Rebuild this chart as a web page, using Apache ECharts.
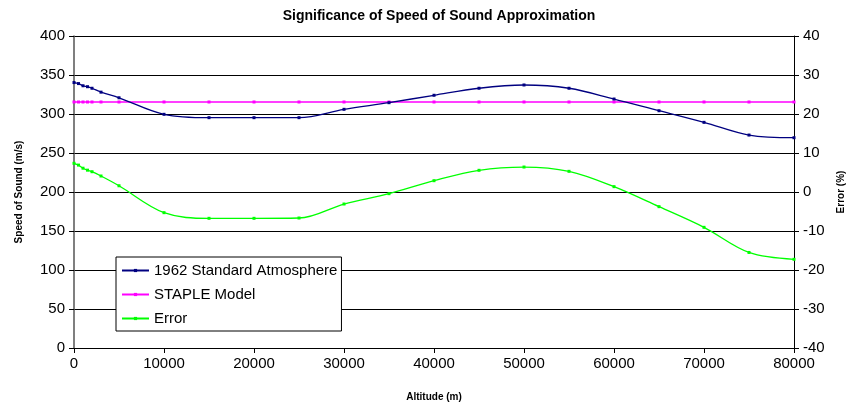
<!DOCTYPE html>
<html>
<head>
<meta charset="utf-8">
<script src="https://cdn.jsdelivr.net/npm/echarts@6/dist/echarts.min.js"></script>
<style>
html,body{margin:0;padding:0;background:#fff;}
#chart{width:852px;height:414px;}
</style>
</head>
<body>
<div id="chart"></div>
<script>
const altitudes = [0, 500, 1000, 1500, 2000, 3000, 5000, 10000, 15000, 20000, 25000, 30000, 35000, 40000, 45000, 50000, 55000, 60000, 65000, 70000, 75000, 80000];
const standardAtmosphere = [340.3, 339.0, 336.2, 335.0, 333.0, 328.0, 320.8, 299.6, 295.3, 295.3, 295.3, 306.0, 314.5, 324.0, 333.0, 337.2, 333.0, 319.2, 304.2, 289.3, 273.0, 269.6];
const stapleModel = [315.4, 315.4, 315.4, 315.4, 315.4, 315.4, 315.4, 315.4, 315.4, 315.4, 315.4, 315.4, 315.4, 315.4, 315.4, 315.4, 315.4, 315.4, 315.4, 315.4, 315.4, 315.4];
const errorPct = [7.36, 6.9, 6.1, 5.6, 5.2, 4.1, 1.6, -5.3, -6.75, -6.75, -6.67, -3.08, -0.43, 2.9, 5.56, 6.4, 5.3, 1.37, -3.76, -9.06, -15.5, -17.26];
const leftTicks = [0, 50, 100, 150, 200, 250, 300, 350, 400];
const rightTicks = [-40, -30, -20, -10, 0, 10, 20, 30, 40];
const xTicks = [0, 10000, 20000, 30000, 40000, 50000, 60000, 70000, 80000];

const FONT = 'Arial, "Liberation Sans", sans-serif';
const pair = (xs, ys) => xs.map((x, i) => [x, ys[i]]);
const plain = v => String(v);

const chart = echarts.init(document.getElementById('chart'), null, {renderer: 'canvas'});
chart.setOption({
  animation: false,
  backgroundColor: '#fff',
  textStyle: {fontFamily: FONT},
  title: {
    text: 'Significance of Speed of Sound Approximation',
    left: 434, top: 4, textAlign: 'center',
    textStyle: {fontFamily: FONT, fontSize: 14, fontWeight: 'bold', color: '#000'}
  },
  grid: {left: 74, right: 58, top: 36, bottom: 66, containLabel: false, outerBoundsMode: 'none'},
  legend: {
    orient: 'vertical', left: 116, top: 257,
    padding: [6, 4, 5, 5], itemGap: 9, itemWidth: 27, itemHeight: 4,
    backgroundColor: '#fff', borderColor: '#000', borderWidth: 1, borderRadius: 0,
    textStyle: {fontFamily: FONT, fontSize: 15, color: '#000'},
    data: ['1962 Standard Atmosphere', 'STAPLE Model', 'Error']
  },
  xAxis: {
    type: 'value', min: xTicks[0], max: xTicks[xTicks.length - 1], interval: xTicks[1] - xTicks[0],
    name: 'Altitude (m)', nameLocation: 'middle', nameGap: 44,
    nameTextStyle: {fontFamily: FONT, fontSize: 10, fontWeight: 'bold', color: '#000'},
    axisLine: {onZero: false, lineStyle: {color: '#000', width: 1}},
    axisTick: {show: true, length: 5, lineStyle: {color: '#000'}},
    axisLabel: {fontFamily: FONT, fontSize: 15, color: '#000', margin: 8, formatter: plain},
    splitLine: {show: false}
  },
  yAxis: [{
    type: 'value', min: leftTicks[0], max: leftTicks[leftTicks.length - 1], interval: leftTicks[1] - leftTicks[0],
    name: 'Speed of Sound (m/s)', nameLocation: 'middle', nameGap: 50, nameRotate: 90,
    nameTextStyle: {fontFamily: FONT, fontSize: 10, fontWeight: 'bold', color: '#000'},
    axisLine: {show: true, lineStyle: {color: '#555', width: 1.5}},
    axisTick: {show: true, length: 5, lineStyle: {color: '#000'}},
    axisLabel: {fontFamily: FONT, fontSize: 15, color: '#000', margin: 9, formatter: plain},
    splitLine: {show: true, lineStyle: {color: '#000', width: 1}}
  }, {
    type: 'value', position: 'right', min: rightTicks[0], max: rightTicks[rightTicks.length - 1], interval: rightTicks[1] - rightTicks[0],
    name: 'Error (%)', nameLocation: 'middle', nameGap: 42, nameRotate: 90,
    nameTextStyle: {fontFamily: FONT, fontSize: 10, fontWeight: 'bold', color: '#000'},
    axisLine: {show: true, lineStyle: {color: '#000', width: 1}},
    axisTick: {show: true, length: 5, lineStyle: {color: '#000'}},
    axisLabel: {fontFamily: FONT, fontSize: 15, color: '#000', margin: 9, formatter: plain},
    splitLine: {show: false}
  }],
  series: [{
    name: '1962 Standard Atmosphere', type: 'line', yAxisIndex: 0,
    data: pair(altitudes, standardAtmosphere), smooth: 0.35,
    symbol: 'rect', symbolSize: 3, showSymbol: true,
    lineStyle: {color: '#000080', width: 1.3}, itemStyle: {color: '#000080'}, z: 3
  }, {
    name: 'STAPLE Model', type: 'line', yAxisIndex: 0,
    data: pair(altitudes, stapleModel), smooth: false,
    symbol: 'rect', symbolSize: 3, showSymbol: true,
    lineStyle: {color: '#FF00FF', width: 1.3}, itemStyle: {color: '#FF00FF'}, z: 2
  }, {
    name: 'Error', type: 'line', yAxisIndex: 1,
    data: pair(altitudes, errorPct), smooth: 0.35,
    symbol: 'rect', symbolSize: 3, showSymbol: true,
    lineStyle: {color: '#00FF00', width: 1.3}, itemStyle: {color: '#00FF00'}, z: 2
  }]
});
</script>
</body>
</html>
